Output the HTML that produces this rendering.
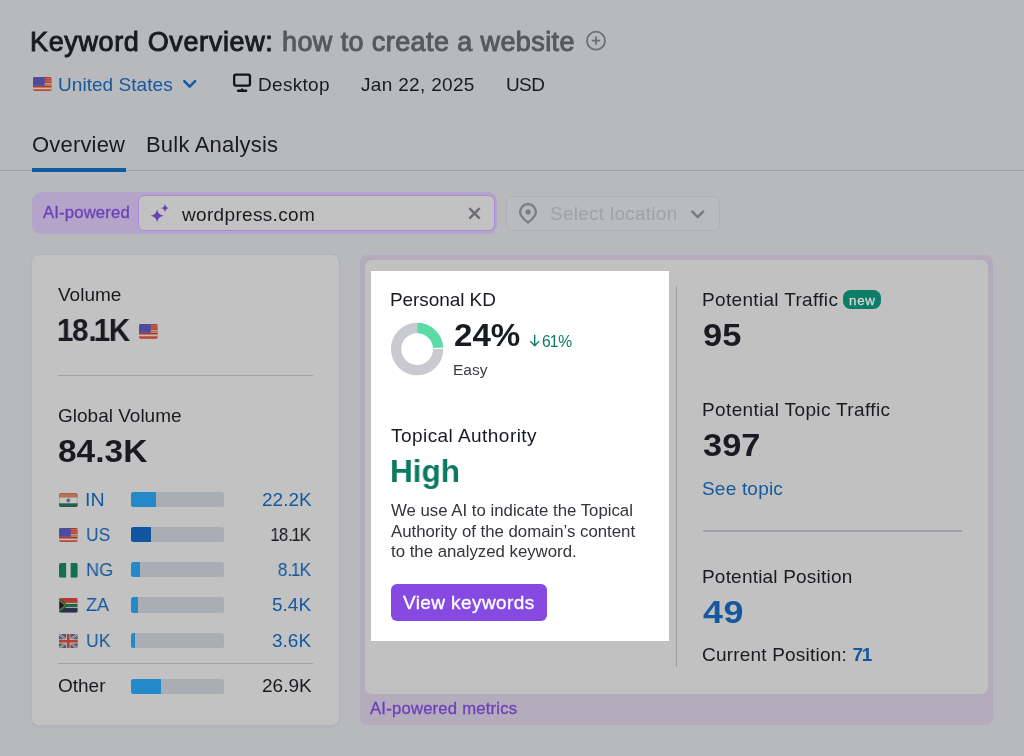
<!DOCTYPE html>
<html>
<head>
<meta charset="utf-8">
<title>Keyword Overview</title>
<style>
*{box-sizing:border-box;margin:0;padding:0}
html,body{width:1024px;height:756px;overflow:hidden;background:#b8b9bd;font-family:"Liberation Sans",sans-serif;color:#14151b}
.t{position:absolute;white-space:nowrap;line-height:1;will-change:transform}
.a{position:absolute}
.bar{position:absolute;left:131px;width:93px;height:15.3px;background:#abadb4;border-radius:2.5px;overflow:hidden}
.bar i{display:block;height:100%;background:#2389c9}
.n1{margin:0 -0.09em 0 -0.14em}
</style>
</head>
<body>
<div class="t" id="h1" style="left:30.2px;top:28.74px;font-size:27px;color:#1a1b21;letter-spacing:0.64px;-webkit-text-stroke:0.95px #1a1b21;">Keyword Overview:</div>
<div class="t" id="h2" style="left:281.5px;top:28.74px;font-size:27px;color:#57585f;letter-spacing:0.4px;-webkit-text-stroke:0.95px #57585f;">how to create a website</div>
<svg class="a" style="left:585px;top:30px" width="22" height="22" viewBox="0 0 22 22"><circle cx="11" cy="10.7" r="9" fill="none" stroke="#6d6e74" stroke-width="1.8"/><path d="M11 6.6v8.2M6.9 10.7h8.2" stroke="#6d6e74" stroke-width="1.8" fill="none"/></svg>
<svg class="a" style="left:33px;top:76.5px;border-radius:2px" width="18.6" height="14.6" viewBox="0 0 19 15" preserveAspectRatio="none"><rect width="19" height="15" fill="#c48a74"/><rect y="0.00" width="19" height="1.4" fill="#b2352b"/><rect y="2.27" width="19" height="1.4" fill="#b2352b"/><rect y="4.54" width="19" height="1.4" fill="#b2352b"/><rect y="6.81" width="19" height="1.4" fill="#b2352b"/><rect y="9.08" width="19" height="1.4" fill="#b2352b"/><rect y="11.35" width="19" height="1.4" fill="#b2352b"/><rect y="13.62" width="19" height="1.4" fill="#b2352b"/><rect x="9.2" y="6.7" width="9.8" height="0.9" fill="#cbcbcb"/><rect y="11.3" width="19" height="0.9" fill="#cbcbcb"/><rect width="12" height="9" fill="#4d4c9c"/></svg>
<div class="t" id="us" style="left:57.9px;top:75.32px;font-size:19px;color:#14589e;letter-spacing:0.05px;">United States</div>
<svg class="a" style="left:182px;top:77px" width="16" height="13" viewBox="0 0 16 13"><path d="M2.3 4.2 L7.7 9.6 L13.1 4.2" fill="none" stroke="#1059a4" stroke-width="2.5" stroke-linecap="round" stroke-linejoin="round"/></svg>
<svg class="a" style="left:233px;top:73px" width="19" height="20" viewBox="0 0 19 20"><rect x="1.15" y="1.55" width="15.8" height="11.1" rx="1.6" fill="none" stroke="#14151b" stroke-width="2.35"/><path d="M7.2 16.9 L9.05 14.9 L10.9 16.9Z" fill="#14151b"/><rect x="3.9" y="16.5" width="10.4" height="2.4" rx="1.2" fill="#14151b"/></svg>
<div class="t" id="desk" style="left:257.5px;top:75.12px;font-size:19px;color:#1a1b21;letter-spacing:0.3px;">Desktop</div>
<div class="t" id="date" style="left:360.5px;top:75.12px;font-size:19px;color:#1a1b21;letter-spacing:0.32px;">Jan 22, 2025</div>
<div class="t" id="usd" style="left:505.5px;top:75.12px;font-size:19px;color:#1a1b21;letter-spacing:-0.6px;">USD</div>
<div class="t" id="tab1" style="left:31.5px;top:134.28px;font-size:22px;color:#1a1b21;letter-spacing:0.18px;">Overview</div>
<div class="t" id="tab2" style="left:146.0px;top:134.28px;font-size:22px;color:#1a1b21;letter-spacing:0.2px;">Bulk Analysis</div>
<div class="a" style="left:0;top:170px;width:1024px;height:1.3px;background:#9fa1a8"></div>
<div class="a" style="left:32px;top:167.7px;width:94px;height:4px;background:#0f5aa0"></div>
<div class="a" style="left:31.7px;top:192.3px;width:465.2px;height:41.7px;background:#b4a4ca;border-radius:9px"></div>
<div class="t" id="aip" style="left:42.5px;top:205.06px;font-size:16.7px;color:#6a3fb8;letter-spacing:0.15px;-webkit-text-stroke:0.3px #6a3fb8;">AI-powered</div>
<div class="a" style="left:137.7px;top:195px;width:357.5px;height:36.3px;background:#a88ada;border-radius:6.5px"></div><div class="a" style="left:139px;top:196.3px;width:354.9px;height:33.7px;background:#c2c2c2;border-radius:5.2px"></div>
<svg class="a" style="left:150px;top:203px" width="21" height="21" viewBox="0 0 21 21"><path d="M7.1 6.200000000000001 Q8.0 11.9 13.7 12.8 Q8.0 13.700000000000001 7.1 19.4 Q6.199999999999999 13.700000000000001 0.5 12.8 Q6.199999999999999 11.9 7.1 6.200000000000001Z" fill="#6642b4"/><path d="M15.0 1.0 Q15.55 4.55 19.1 5.1 Q15.55 5.6499999999999995 15.0 9.2 Q14.45 5.6499999999999995 10.9 5.1 Q14.45 4.55 15.0 1.0Z" fill="#6642b4"/></svg>
<div class="t" id="wp" style="left:182px;top:204.62px;font-size:19px;color:#1a1b21;letter-spacing:0.33px;">wordpress.com</div>
<svg class="a" style="left:467px;top:206px" width="15" height="15" viewBox="0 0 15 15"><path d="M2.3 2.2L12.7 12.6M12.7 2.2L2.3 12.6" stroke="#6d6e74" stroke-width="2.4"/></svg>
<div class="a" style="left:506.3px;top:195.5px;width:213.4px;height:35.6px;background:#b0b1b7;border-radius:6.5px"></div><div class="a" style="left:507.3px;top:196.5px;width:211.4px;height:33.6px;background:#babbbe;border-radius:5.5px"></div>
<svg class="a" style="left:518px;top:202px" width="21" height="23" viewBox="0 0 21 23"><path d="M10 2.05 A7.9 7.9 0 0 0 2.1 9.95 C2.1 14.2 6.3 17.6 10 20.6 C13.7 17.6 17.9 14.2 17.9 9.95 A7.9 7.9 0 0 0 10 2.05 Z" fill="none" stroke="#7d8088" stroke-width="2.4" stroke-linejoin="round"/><circle cx="10.05" cy="10" r="2.7" fill="#7d8088"/></svg>
<div class="t" id="sel" style="left:550px;top:203.92px;font-size:19px;color:#a1a2a9;letter-spacing:0.26px;">Select location</div>
<svg class="a" style="left:690px;top:208px" width="16" height="13" viewBox="0 0 16 13"><path d="M2.3 3.7 L7.7 9.1 L13.1 3.7" fill="none" stroke="#797b83" stroke-width="2.6" stroke-linecap="round" stroke-linejoin="round"/></svg>
<div class="a" style="left:32px;top:254.5px;width:307px;height:470.5px;background:#c2c2c2;border-radius:7px;box-shadow:0 0 0 1px #b3b4b9, 0 1px 3px rgba(0,0,0,.10)"></div>
<div class="t" id="vol" style="left:58px;top:284.82px;font-size:19px;color:#1a1b21;">Volume</div>
<div class="t" id="v181" style="left:59.6px;top:314.21px;font-size:32px;color:#1a1b21;font-weight:bold;transform:scaleX(0.925);transform-origin:0 50%;"><span style="margin:0 -0.05em 0 -0.1em">1</span>8.<span style="margin:0 -0.05em 0 -0.1em">1</span>K</div>
<svg class="a" style="left:139px;top:324.2px;border-radius:2px" width="18.6" height="14.6" viewBox="0 0 19 15" preserveAspectRatio="none"><rect width="19" height="15" fill="#c48a74"/><rect y="0.00" width="19" height="1.4" fill="#b2352b"/><rect y="2.27" width="19" height="1.4" fill="#b2352b"/><rect y="4.54" width="19" height="1.4" fill="#b2352b"/><rect y="6.81" width="19" height="1.4" fill="#b2352b"/><rect y="9.08" width="19" height="1.4" fill="#b2352b"/><rect y="11.35" width="19" height="1.4" fill="#b2352b"/><rect y="13.62" width="19" height="1.4" fill="#b2352b"/><rect x="9.2" y="6.7" width="9.8" height="0.9" fill="#cbcbcb"/><rect y="11.3" width="19" height="0.9" fill="#cbcbcb"/><rect width="12" height="9" fill="#4d4c9c"/></svg>
<div class="a" style="left:58px;top:374.9px;width:254.5px;height:1.5px;background:#9da1aa"></div>
<div class="t" id="gvol" style="left:58px;top:406.02px;font-size:19px;color:#1a1b21;">Global Volume</div>
<div class="t" id="v843" style="left:58px;top:435.41px;font-size:32px;color:#1a1b21;font-weight:bold;transform:scaleX(1.046);transform-origin:0 50%;">84.3K</div>
<svg class="a" style="left:59px;top:492.6px;border-radius:2px" width="18.6" height="14.6" viewBox="0 0 19 15" preserveAspectRatio="none"><rect width="19" height="15" fill="#c6c6c6"/><rect width="19" height="4.7" fill="#b9714f"/><rect y="10.6" width="19" height="4.4" fill="#245f49"/><circle cx="9.5" cy="7.6" r="1.6" fill="#6c7390" stroke="#4a5070" stroke-width="0.7"/><rect x="0.4" y="0.4" width="18.2" height="14.2" rx="1.6" fill="none" stroke="rgba(60,60,70,.28)" stroke-width="0.8"/></svg>
<div class="t" id="c_in" style="left:84.7px;top:490.32px;font-size:19px;color:#14589e;transform:scaleX(1.03);transform-origin:0 50%;">IN</div>
<div class="bar" style="top:491.5px"><i style="width:27%"></i></div>
<div class="t" id="val_in" style="left:0px;top:490.32px;font-size:19px;color:#14589e;left:auto;right:712.5px;transform-origin:100% 50%;">22.2K</div>
<svg class="a" style="left:59px;top:527.9px;border-radius:2px" width="18.6" height="14.6" viewBox="0 0 19 15" preserveAspectRatio="none"><rect width="19" height="15" fill="#c48a74"/><rect y="0.00" width="19" height="1.4" fill="#b2352b"/><rect y="2.27" width="19" height="1.4" fill="#b2352b"/><rect y="4.54" width="19" height="1.4" fill="#b2352b"/><rect y="6.81" width="19" height="1.4" fill="#b2352b"/><rect y="9.08" width="19" height="1.4" fill="#b2352b"/><rect y="11.35" width="19" height="1.4" fill="#b2352b"/><rect y="13.62" width="19" height="1.4" fill="#b2352b"/><rect x="9.2" y="6.7" width="9.8" height="0.9" fill="#cbcbcb"/><rect y="11.3" width="19" height="0.9" fill="#cbcbcb"/><rect width="12" height="9" fill="#4d4c9c"/></svg>
<div class="t" id="c_us" style="left:86px;top:525.32px;font-size:19px;color:#14589e;transform:scaleX(0.92);transform-origin:0 50%;">US</div>
<div class="bar" style="top:526.8px"><i style="width:21%;background:#1055a0"></i></div>
<div class="t" id="val_us" style="left:0px;top:525.32px;font-size:19px;color:#1a1b21;left:auto;right:712.5px;transform-origin:100% 50%;transform:scaleX(0.885);"><span style="margin:0 -0.05em 0 -0.1em">1</span>8.<span style="margin:0 -0.05em 0 -0.1em">1</span>K</div>
<svg class="a" style="left:59px;top:563.1px;border-radius:2px" width="18.6" height="14.6" viewBox="0 0 19 15" preserveAspectRatio="none"><rect width="19" height="15" fill="#c4c4c4"/><rect width="7.3" height="15" fill="#15704f"/><rect x="11.9" width="7.1" height="15" fill="#15704f"/></svg>
<div class="t" id="c_ng" style="left:86px;top:560.22px;font-size:19px;color:#14589e;transform:scaleX(0.955);transform-origin:0 50%;">NG</div>
<div class="bar" style="top:562px"><i style="width:9.5%"></i></div>
<div class="t" id="val_ng" style="left:0px;top:560.22px;font-size:19px;color:#14589e;left:auto;right:712.5px;transform-origin:100% 50%;transform:scaleX(0.925);">8.<span style="margin:0 -0.05em 0 -0.1em">1</span>K</div>
<svg class="a" style="left:59px;top:598.4px;border-radius:2px" width="18.6" height="14.6" viewBox="0 0 19 15" preserveAspectRatio="none"><rect width="19" height="15" fill="#cfcfcf"/><rect width="19" height="5" fill="#b5392f"/><rect y="10" width="19" height="5" fill="#2e3048"/><path d="M0 0 L7.5 5.8 H19 V9.2 H7.5 L0 15 Z" fill="#1d6a45"/><path d="M0 2.2 L6 7.5 L0 12.8 Z" fill="#1b1b1b" stroke="#b89a40" stroke-width="0.7"/></svg>
<div class="t" id="c_za" style="left:86px;top:595.32px;font-size:19px;color:#14589e;transform:scaleX(0.95);transform-origin:0 50%;">ZA</div>
<div class="bar" style="top:597.3px"><i style="width:7%"></i></div>
<div class="t" id="val_za" style="left:0px;top:595.32px;font-size:19px;color:#14589e;left:auto;right:712.5px;transform-origin:100% 50%;">5.4K</div>
<svg class="a" style="left:59px;top:633.6px;border-radius:2px" width="18.6" height="14.6" viewBox="0 0 19 15" preserveAspectRatio="none"><rect width="19" height="15" fill="#4c5574"/><path d="M0 0L19 15M19 0L0 15" stroke="#a9abb3" stroke-width="2.4"/><path d="M0 0L19 15M19 0L0 15" stroke="#b04a3f" stroke-width="0.8"/><path d="M9.5 0V15M0 7.5H19" stroke="#bcbcbc" stroke-width="4.4"/><path d="M9.5 0V15M0 7.5H19" stroke="#b5402f" stroke-width="2.7"/></svg>
<div class="t" id="c_uk" style="left:86px;top:631.32px;font-size:19px;color:#14589e;transform:scaleX(0.93);transform-origin:0 50%;">UK</div>
<div class="bar" style="top:632.5px"><i style="width:4.3%"></i></div>
<div class="t" id="val_uk" style="left:0px;top:631.32px;font-size:19px;color:#14589e;left:auto;right:712.5px;transform-origin:100% 50%;">3.6K</div>
<div class="a" style="left:58px;top:662.5px;width:254.5px;height:1.5px;background:#9da1aa"></div>
<div class="t" id="other" style="left:58px;top:676.12px;font-size:19px;color:#1a1b21;">Other</div>
<div class="bar" style="top:678.5px"><i style="width:32.3%"></i></div>
<div class="t" id="val_other" style="left:0px;top:676.12px;font-size:19px;color:#1a1b21;left:auto;right:712.5px;">26.9K</div>
<div class="a" style="left:360px;top:255px;width:633px;height:470px;background:#b4abbd;border-radius:7px"></div>
<div class="a" style="left:365px;top:260px;width:623px;height:434px;background:#c1c1c1;border-radius:7px"></div>
<div class="a" style="left:370.7px;top:271px;width:298.1px;height:369.6px;background:#fff"></div>
<div class="a" style="left:675.6px;top:286px;width:1.5px;height:381px;background:#9c9ea6"></div>
<div class="t" id="aim" style="left:369.5px;top:701.36px;font-size:16.7px;color:#6a3fb8;letter-spacing:0.2px;-webkit-text-stroke:0.3px #6a3fb8;">AI-powered metrics</div>
<div class="t" id="pkd" style="left:390px;top:289.72px;font-size:19px;color:#191b23;letter-spacing:-0.08px;">Personal KD</div>
<svg class="a" style="left:390px;top:322px" width="55" height="55" viewBox="0 0 55 55"><path d="M48.2 26.9 A21.05 21.05 0 1 1 27.15 6.0" fill="none" stroke="#c9cacf" stroke-width="10.3"/><path d="M27.15 6.0 A21.05 21.05 0 0 1 48.16 25.75" fill="none" stroke="#5adba7" stroke-width="10.3"/></svg>
<div class="t" id="p24" style="left:454px;top:319.21px;font-size:32px;color:#191b23;font-weight:bold;transform:scaleX(1.035);transform-origin:0 50%;">24%</div>
<svg class="a" style="left:529px;top:334px" width="11.4" height="13" viewBox="0 0 11.4 13"><path d="M5.7 0.8V11.6M1.25 7.1L5.7 11.8L10.15 7.1" fill="none" stroke="#0b7a62" stroke-width="1.35"/></svg>
<div class="t" id="d61" style="left:541.6px;top:333.79px;font-size:15.6px;color:#0b7a62;letter-spacing:0.1px;">6<span style="margin:0 -0.02em 0 -0.07em">1</span>%</div>
<div class="t" id="easy" style="left:453px;top:361.78px;font-size:15.5px;color:#3a3b42;">Easy</div>
<div class="t" id="ta" style="left:390.5px;top:426.02px;font-size:19px;color:#191b23;letter-spacing:0.45px;">Topical Authority</div>
<div class="t" id="high" style="left:390px;top:455.21px;font-size:32px;color:#0b7a62;font-weight:bold;transform:scaleX(0.985);transform-origin:0 50%;">High</div>
<div class="a" id="para" style="left:390.5px;top:501.4px;font-size:16.8px;line-height:20.7px;color:#33343b;white-space:nowrap;will-change:transform">We use AI to indicate the Topical<br>Authority of the domain&#8217;s content<br>to the analyzed keyword.</div>
<div class="a" style="left:391px;top:584px;width:156px;height:36.5px;background:#8649e1;border-radius:6px"></div>
<div class="t" id="vk" style="left:402.5px;top:592.62px;font-size:19px;color:#fff;letter-spacing:0.4px;-webkit-text-stroke:0.35px #fff;">View keywords</div>
<div class="t" id="pt" style="left:702px;top:289.82px;font-size:19px;color:#1a1b21;letter-spacing:0.33px;">Potential Traffic</div>
<div class="a" style="left:842.8px;top:289.9px;width:38.1px;height:18.8px;background:#0c7d66;border-radius:7.6px"></div>
<div class="t" id="new" style="left:848.8px;top:294.24px;font-size:13.3px;color:#d4d4d4;letter-spacing:0.75px;-webkit-text-stroke:0.3px #d6d6d6;">new</div>
<div class="t" id="v95" style="left:702.5px;top:318.61px;font-size:32px;color:#1a1b21;font-weight:bold;transform:scaleX(1.075);transform-origin:0 50%;">95</div>
<div class="t" id="ptt" style="left:702px;top:399.82px;font-size:19px;color:#1a1b21;letter-spacing:0.37px;">Potential Topic Traffic</div>
<div class="t" id="v397" style="left:702.5px;top:428.61px;font-size:32px;color:#1a1b21;font-weight:bold;transform:scaleX(1.075);transform-origin:0 50%;">397</div>
<div class="t" id="see" style="left:702px;top:479.12px;font-size:19px;color:#14589e;letter-spacing:0.2px;">See topic</div>
<div class="a" style="left:703px;top:530px;width:258.5px;height:1.5px;background:#9da1aa"></div>
<div class="t" id="pp" style="left:702px;top:567.02px;font-size:19px;color:#1a1b21;letter-spacing:0.2px;">Potential Position</div>
<div class="t" id="v49" style="left:702.5px;top:595.81px;font-size:32px;color:#14589e;letter-spacing:0.5px;font-weight:bold;transform:scaleX(1.12);transform-origin:0 50%;">49</div>
<div class="t" id="cp" style="left:702px;top:645.02px;font-size:19px;color:#1a1b21;letter-spacing:0.2px;">Current Position: <b id="b71" style="color:#14589e">7<span style="margin:0 0 0 -0.07em">1</span></b></div>
</body>
</html>
